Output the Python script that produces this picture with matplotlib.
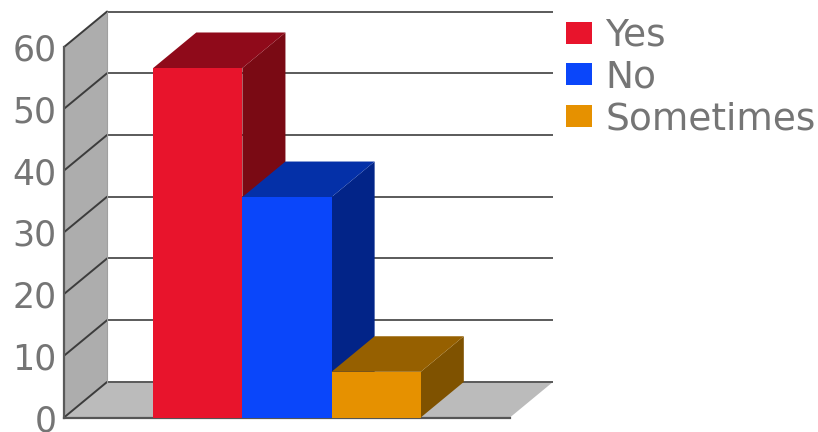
import matplotlib
matplotlib.use('Agg')
import matplotlib.pyplot as plt
from matplotlib.patches import Polygon, Patch

# dados
categorias = ['Yes', 'No', 'Sometimes']
valores = [56.6, 35.7, 7.4]
ticks = [0, 10, 20, 30, 40, 50, 60]

cor_frente = ['#e8142c', '#0a46fa', '#e69100']
cor_topo = ['#8f0a1a', '#0430a8', '#966000']
cor_lado = ['#7a0a14', '#022488', '#7f5200']

plt.rcParams['font.family'] = ['DejaVu Sans']

W, H = 818, 432
fig = plt.figure(figsize=(W / 100, H / 100), dpi=100)
# eixo vai da parede esquerda ate o fim das linhas de grade
ax = fig.add_axes([64 / W, (H - 417.5) / H, (553 - 64) / W, (417.5 - 11.5) / H])

# profundidade do efeito 3D, em unidades dos eixos
dx = 0.483
dy = 5.76
x_ini = -1.0
x_fim = 4.0
top = ticks[-1]

ax.set_xlim(x_ini, x_fim + dx)
ax.set_ylim(0, top + dy)

def poly(pts, cor, z, ec='none', lw=0):
    ax.add_patch(Polygon(pts, closed=True, facecolor=cor, edgecolor=ec,
                         linewidth=lw, zorder=z, clip_on=False))

# parede e chao
poly([(x_ini, 0), (x_ini + dx, dy), (x_ini + dx, top + dy), (x_ini, top)], '#adadad', 1)
poly([(x_ini, 0), (x_fim, 0), (x_fim + dx, dy), (x_ini + dx, dy)], '#bbbbbb', 1)

# linhas de grade
for t in ticks:
    ax.plot([x_ini, x_ini + dx], [t, t + dy], color='#3c3c3c', lw=1.4, zorder=2,
            clip_on=False, solid_capstyle='round')
    ax.plot([x_ini + dx, x_fim + dx], [t + dy, t + dy], color='#5a5a5a', lw=1.4,
            zorder=2, clip_on=False, solid_capstyle='butt')
ax.plot([x_ini, x_ini], [0, top], color='#5a5a5a', lw=1.6, zorder=2, clip_on=False)
ax.plot([x_ini, x_fim], [0, 0], color='#555555', lw=1.6, zorder=2, clip_on=False)
ax.plot([x_ini + dx, x_ini + dx], [dy, top + dy], color='#a0a0a0', lw=0.8, zorder=2)

# barras
for i, v in enumerate(valores):
    z = 3 + i
    poly([(i + 1, 0), (i + 1 + dx, dy), (i + 1 + dx, v + dy), (i + 1, v)], cor_lado[i], z)
    poly([(i, v), (i + 1, v), (i + 1 + dx, v + dy), (i + dx, v + dy)], cor_topo[i], z)
    ax.bar(i + 0.5, v, width=1, color=cor_frente[i], zorder=z + 0.5, clip_on=False)

ax.set_xticks([])
ax.set_yticks(ticks)
ax.tick_params(axis='y', length=0, pad=5.5, labelsize=25, labelcolor='#757575')
for s in ax.spines.values():
    s.set_visible(False)
ax.patch.set_alpha(0)

handles = [Patch(facecolor=c, edgecolor='none') for c in cor_frente]
ax.legend(handles, categorias, loc='upper left', bbox_to_anchor=(566 / W, (H - 18) / H),
          bbox_transform=fig.transFigure, frameon=False, fontsize=27, labelcolor='#757575',
          borderpad=0, borderaxespad=0, handlelength=0.7, handleheight=0.53,
          handletextpad=0.34, labelspacing=0.15)

fig.savefig('out.png', dpi=100)
